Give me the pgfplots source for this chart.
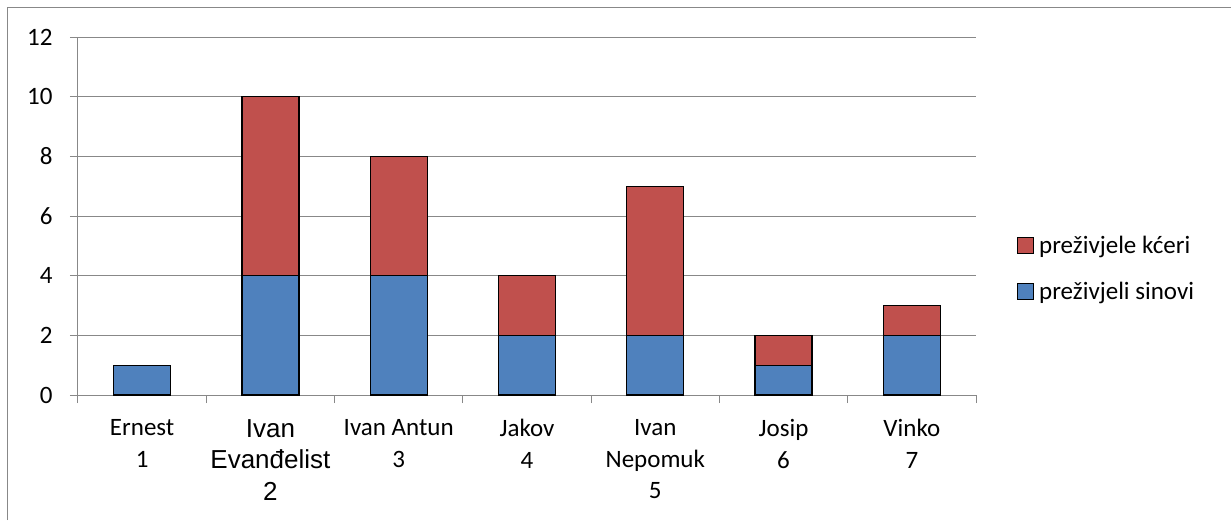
\documentclass[border=0pt]{standalone}
\usepackage{pgfplots}
\pgfplotsset{compat=1.18}
\usepackage{fontspec}
\setmainfont{Carlito}
\newfontfamily\arial{Liberation Sans}
\definecolor{sinblue}{HTML}{4F81BD}
\definecolor{kcred}{HTML}{C0504D}
\definecolor{gridgray}{HTML}{888888}
\newcommand{\arl}[1]{{\arial\fontsize{26}{31}\selectfont #1}}
\begin{document}
\begin{tikzpicture}[font=\fontsize{25}{31.5}\selectfont]
\useasboundingbox (-78pt,-125pt) rectangle (1153pt,395pt);
\draw[gridgray, line width=1pt] (-70pt,-125pt) -- (-70pt,387pt) -- (1153pt,387pt);
\begin{axis}[
    at={(0pt,0pt)}, anchor=south west,
    scale only axis,
    width=898pt, height=358pt,
    ybar stacked, bar width=57pt,
    xmin=-0.5, xmax=6.5,
    ymin=0, ymax=12,
    ytick={0,2,...,12},
    ymajorgrids,
    grid style={gridgray, line width=1pt},
    axis x line*=bottom, axis y line*=left,
    axis line style={gridgray, line width=1pt, -},
    tick style={gridgray, line width=1pt},
    tick align=outside, major tick length=8pt,
    xtick={-0.5,0.5,...,6.5}, xticklabels={},
    extra x ticks={0,1,2,3,4,5,6},
    extra x tick labels={{Ernest\\1},{\arl{Ivan}\\\arl{Evanđelist}\\\arl{2}},{Ivan Antun\\3},{Jakov\\4},{Ivan\\Nepomuk\\5},{Josip\\6},{Vinko\\7}},
    extra x tick style={major tick length=0pt, grid=none},
    xticklabel style={align=center, anchor=north, text=black, yshift=-21pt},
    yticklabel style={text=black, xshift=-14pt},
    /pgf/number format/assume math mode=true,
    legend style={draw=none, fill=none, at={(1.0423,0.353)}, anchor=west,
        row sep=23pt, font=\fontsize{25}{30}\selectfont},
    legend cell align=left,
    reverse legend,
    legend image code/.code={\draw[#1, draw=black, line width=1pt] (0pt,-8pt) rectangle (16pt,8pt);},
]
\addplot[fill=sinblue, draw=black, line width=1.3pt] coordinates {(0,1) (1,4) (2,4) (3,2) (4,2) (5,1) (6,2)};
\addplot[fill=kcred, draw=black, line width=1.3pt] coordinates {(0,0) (1,6) (2,4) (3,2) (4,5) (5,1) (6,1)};
\legend{\hspace{3pt}preživjeli sinovi, \hspace{3pt}preživjele kćeri}
\end{axis}
\end{tikzpicture}
\end{document}
